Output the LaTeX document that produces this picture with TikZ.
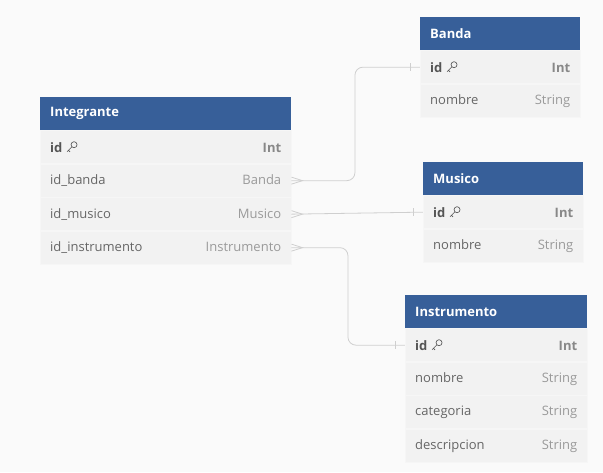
\documentclass[tikz,border=0pt]{standalone}
\usepackage{fontspec}
\setmainfont{Open Sans}
\usetikzlibrary{positioning}

\definecolor{bgcol}{HTML}{FAFAFA}
\definecolor{hdrblue}{HTML}{375F99}
\definecolor{rowgray}{HTML}{F2F2F2}
\definecolor{rowedge}{HTML}{F6F6F6}
\definecolor{fldgray}{HTML}{666666}
\definecolor{idgray}{HTML}{555555}
\definecolor{typgray}{HTML}{9A9A9A}
\definecolor{intgray}{HTML}{888888}
\definecolor{linkgray}{HTML}{CFCFCF}

% field name left, type right
\newcommand\fld[2]{#1\hskip 0pt plus 1filll{\color{typgray}#2}}
\newcommand\pkey{\tikz[baseline=-0.5pt,x=1pt,y=1pt]{\draw[idgray, line width=0.65pt] (7.6,7.6) circle (3) (5.5,5.5) -- (0.6,0.6) (2,2) -- (3.6,0.4);}}

\begin{document}
\begin{tikzpicture}[x=1pt, y=-1pt,
    hdr/.style={rectangle, fill=hdrblue, text=white, anchor=north west,
        font=\bfseries\fontsize{13}{15}\selectfont, minimum height=33,
        inner xsep=10, inner ysep=0, text width=#1, align=left},
    row/.style={rectangle, fill=rowgray, draw=rowedge, line width=0.5pt, text=fldgray,
        font=\fontsize{13}{15}\selectfont, minimum height=33,
        inner xsep=10, inner ysep=0, text width=#1, align=left},
    conn/.style={draw=linkgray, line width=0.8pt}]

    \fill[bgcol] (0,0) rectangle (603,472);
    \useasboundingbox (0,0) rectangle (603,472);

    % Integrante
    \node[hdr=231pt] (ih) at (40,97) {Integrante};
    \node[row=231pt, below=0pt of ih] (i1) {\fld{\textcolor{idgray}{\textbf{id}} \pkey}{\textcolor{intgray}{\textbf{Int}}}};
    \node[row=231pt, below=0pt of i1] (i2) {\fld{id\_banda}{Banda}};
    \node[row=231pt, below=0pt of i2] (i3) {\fld{id\_musico}{Musico}};
    \node[row=231pt, below=0pt of i3] (i4) {\fld{id\_instrumento}{Instrumento}};

    % Banda
    \node[hdr=140pt] (bh) at (420,17) {Banda};
    \node[row=140pt, below=0pt of bh] (b1) {\fld{\textcolor{idgray}{\textbf{id}} \pkey}{\textcolor{intgray}{\textbf{Int}}}};
    \node[row=140pt, below=0pt of b1] (b2) {\fld{nombre}{String}};

    % Musico
    \node[hdr=140pt] (mh) at (423,162) {Musico};
    \node[row=140pt, below=0pt of mh] (m1) {\fld{\textcolor{idgray}{\textbf{id}} \pkey}{\textcolor{intgray}{\textbf{Int}}}};
    \node[row=140pt, below=0pt of m1] (m2) {\fld{nombre}{String}};

    % Instrumento
    \node[hdr=162pt] (nh) at (405,295) {Instrumento};
    \node[row=162pt, below=0pt of nh] (n1) {\fld{\textcolor{idgray}{\textbf{id}} \pkey}{\textcolor{intgray}{\textbf{Int}}}};
    \node[row=162pt, below=0pt of n1] (n2) {\fld{nombre}{String}};
    \node[row=162pt, below=0pt of n2] (n3) {\fld{categoria}{String}};
    \node[row=162pt, below=0pt of n3] (n4) {\fld{descripcion}{String}};

    % relations
    \draw[conn, rounded corners=8] (i2.east) -| ([xshift=-65pt]b1.west) -- (b1.west);
    \draw[conn] (i3.east) -- (m1.west);
    \draw[conn, rounded corners=8] (i4.east) -| ([xshift=-57pt]n1.west) -- (n1.west);

    \foreach \r in {i2,i3,i4}
        \draw[conn] ([yshift=3.5pt]\r.east) -- ([xshift=11pt]\r.east) -- ([yshift=-3.5pt]\r.east);
    \foreach \t in {b1,m1,n1}
        \draw[conn] ([xshift=-10pt,yshift=4pt]\t.west) -- ([xshift=-10pt,yshift=-4pt]\t.west);
\end{tikzpicture}
\end{document}
